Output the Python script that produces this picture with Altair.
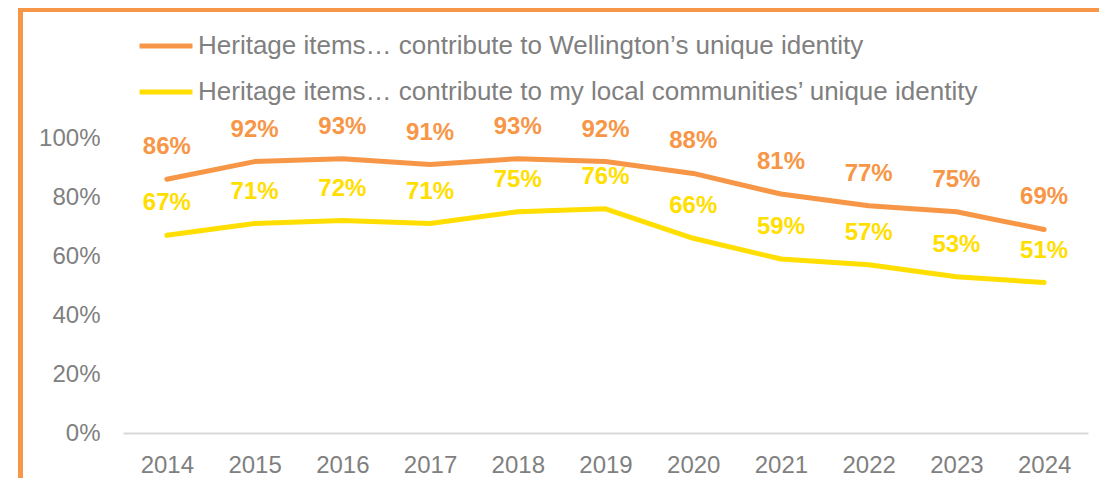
import altair as alt
import pandas as pd

years = ["2014", "2015", "2016", "2017", "2018", "2019", "2020", "2021", "2022", "2023", "2024"]
wellington = [0.86, 0.92, 0.93, 0.91, 0.93, 0.92, 0.88, 0.81, 0.77, 0.75, 0.69]
local = [0.67, 0.71, 0.72, 0.71, 0.75, 0.76, 0.66, 0.59, 0.57, 0.53, 0.51]
series_names = [
    "Heritage items… contribute to Wellington’s unique identity",
    "Heritage items… contribute to my local communities’ unique identity",
]
colors = ["#F79646", "#FFDE00"]

rows = []
for y, a, b in zip(years, wellington, local):
    rows.append({"year": y, "series": series_names[0], "value": a})
    rows.append({"year": y, "series": series_names[1], "value": b})
df = pd.DataFrame(rows)

FONT = "Liberation Sans"
GRAY = "#808080"
ORANGE = "#F79646"

color_scale = alt.Scale(domain=series_names, range=colors)

x_enc = alt.X(
    "year:O",
    sort=years,
    scale=alt.Scale(type="point", padding=0.5),
    axis=alt.Axis(
        title=None,
        labelAngle=0,
        labelFontSize=24,
        labelFont=FONT,
        labelColor=GRAY,
        labelPadding=20,
        domainColor="#D9D9D9",
        domainWidth=2,
        ticks=False,
        grid=False,
    ),
)
y_enc = alt.Y(
    "value:Q",
    scale=alt.Scale(domain=[0, 1], nice=False, zero=True),
    axis=alt.Axis(
        title=None,
        format="%",
        values=[0, 0.2, 0.4, 0.6, 0.8, 1.0],
        labelFontSize=24,
        labelFont=FONT,
        labelColor=GRAY,
        labelPadding=23,
        domain=False,
        ticks=False,
        grid=False,
    ),
)

lines = alt.Chart(df).mark_line(strokeWidth=5, strokeCap="round", strokeJoin="round").encode(
    x=x_enc,
    y=y_enc,
    color=alt.Color(
        "series:N",
        scale=color_scale,
        sort=series_names,
        legend=alt.Legend(
            title=None,
            orient="none",
            legendX=14,
            legendY=-121,
            direction="vertical",
            symbolType="stroke",
            symbolSize=2800,
            symbolStrokeWidth=5,
            labelFontSize=26,
            labelFont=FONT,
            labelColor=GRAY,
            labelOffset=3,
            labelLimit=1000,
            rowPadding=4,
        ),
    ),
)

labels = alt.Chart(df).mark_text(
    fontSize=24, fontWeight="bold", font=FONT, dy=-32, baseline="middle"
).encode(
    x=alt.X("year:O", sort=years),
    y="value:Q",
    text=alt.Text("value:Q", format=".0%"),
    color=alt.Color("series:N", scale=color_scale, legend=None),
)

one = pd.DataFrame({"a": [0]})
top_rule = alt.Chart(one).mark_rule(stroke=ORANGE, strokeWidth=5).encode(
    x=alt.value(-105), x2=alt.value(976), y=alt.value(-128.5), y2=alt.value(-128.5)
)
left_rule = alt.Chart(one).mark_rule(stroke=ORANGE, strokeWidth=5).encode(
    x=alt.value(-102.5), x2=alt.value(-102.5), y=alt.value(-131), y2=alt.value(345)
)

chart = (
    alt.layer(top_rule, left_rule, lines, labels)
    .properties(
        width=965,
        height=295,
        padding={"left": 115, "top": 130, "right": 11, "bottom": 45},
        autosize=alt.AutoSizeParams(type="none"),
        background="white",
    )
    .configure_view(stroke=None)
)

chart.save("out.html", embed_options={"renderer": "svg", "actions": False})
